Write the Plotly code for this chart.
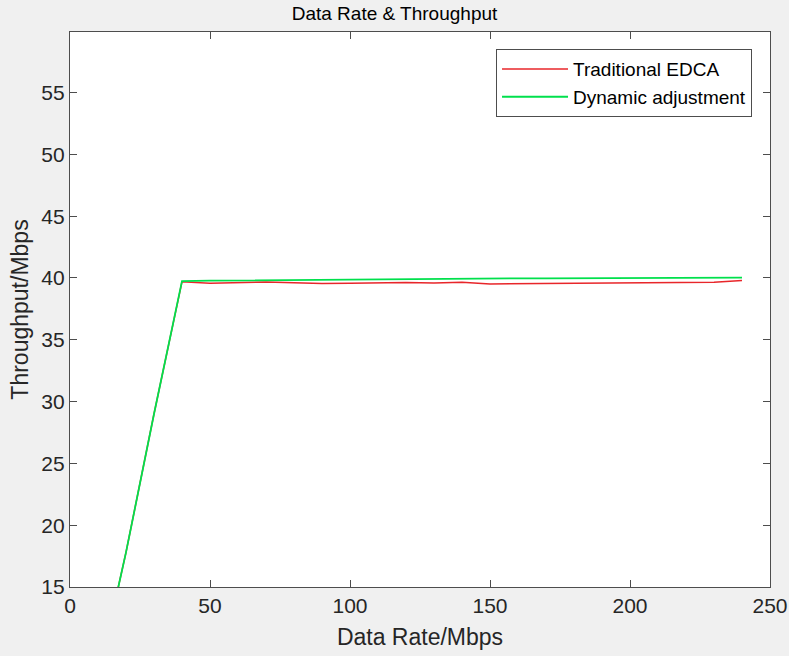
import plotly.graph_objects as go

data_rate = [10, 20, 30, 40, 50, 60, 70, 80, 90, 100, 110, 120, 130, 140, 150,
             160, 170, 180, 190, 200, 210, 220, 230, 240]
traditional_edca = [7.6, 17.8, 29.0, 39.70, 39.58, 39.62, 39.68, 39.62, 39.55, 39.58,
                    39.62, 39.64, 39.60, 39.66, 39.52, 39.54, 39.56, 39.57, 39.58,
                    39.60, 39.62, 39.64, 39.66, 39.80]
dynamic_adjustment = [7.6, 17.8, 29.0, 39.75, 39.78, 39.80, 39.83, 39.86, 39.88, 39.90,
                      39.90, 39.92, 39.94, 39.97, 39.97, 39.97, 39.97, 39.98, 39.98,
                      39.99, 40.00, 40.00, 40.00, 40.03]
x_ticks = [0, 50, 100, 150, 200, 250]
y_ticks = [15, 20, 25, 30, 35, 40, 45, 50, 55]

font = "Liberation Sans, Arial, Helvetica, sans-serif"
txt = "#262626"
axc = "#4d4d4d"

fig = go.Figure()
fig.add_trace(go.Scatter(x=data_rate, y=traditional_edca, mode="lines",
                         name="Traditional EDCA",
                         line=dict(color="#e8262a", width=1.5)))
fig.add_trace(go.Scatter(x=data_rate, y=dynamic_adjustment, mode="lines",
                         name="Dynamic adjustment",
                         line=dict(color="#00e04c", width=1.8)))

axis_common = dict(showline=True, linecolor=axc, linewidth=1.2, mirror="ticks",
                   ticks="inside", ticklen=7, tickcolor=axc, tickwidth=1,
                   showgrid=False, zeroline=False, automargin=False,
                   tickfont=dict(family=font, size=21, color=txt))

fig.update_xaxes(range=[0, 250], tickvals=x_ticks,
                 title=dict(text="Data Rate/Mbps", font=dict(family=font, size=23, color=txt),
                            standoff=12),
                 **axis_common)
fig.update_yaxes(range=[15, 59.9], tickvals=y_ticks,
                 title=dict(text="Throughput/Mbps", font=dict(family=font, size=23, color=txt),
                            standoff=6),
                 **axis_common)

fig.update_layout(
    width=789, height=656,
    margin=dict(l=70, r=19, t=32, b=69, autoexpand=False),
    paper_bgcolor="#f0f0f0", plot_bgcolor="white",
    title=dict(text="Data Rate & Throughput", x=0.5, xanchor="center",
               y=0.979, yanchor="middle",
               font=dict(family=font, size=19, color="#000000")),
    legend=dict(x=0.6086, y=0.969, xanchor="left", yanchor="top",
                bgcolor="white", bordercolor=axc, borderwidth=1,
                font=dict(family=font, size=19, color="#000000"),
                itemwidth=66, tracegroupgap=0),
    showlegend=True,
)

fig.write_html("out.html", config={"displayModeBar": False},
               post_script="document.body.style.margin='0';document.body.style.overflow='hidden';")
